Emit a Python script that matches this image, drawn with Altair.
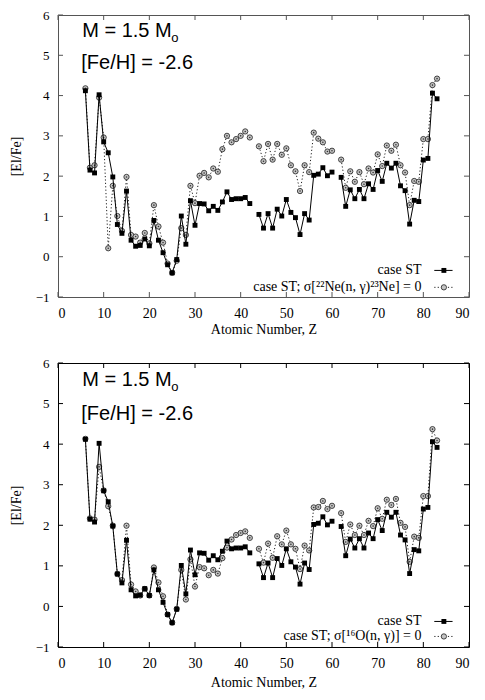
import altair as alt
import pandas as pd

# ---------------- data ----------------
Z = [6, 7, 8, 9, 10, 11, 12, 13, 14, 15, 16, 17, 18, 19, 20, 21, 22, 23, 24, 25,
     26, 27, 28, 29, 30, 31, 32, 33, 34, 35, 36, 37, 38, 39, 40, 41, 42,
     44, 45, 46, 47, 48, 49, 50, 51, 52, 53, 54, 55, 56, 57, 58, 59, 60,
     62, 63, 64, 65, 66, 67, 68, 69, 70, 71, 72, 73, 74, 75, 76, 77, 78, 79,
     80, 81, 82, 83]

case_st = [4.12, 2.15, 2.08, 4.02, 2.85, 2.58, 1.98, 0.80, 0.58, 1.63, 0.41, 0.26,
           0.28, 0.44, 0.27, 0.90, 0.41, 0.10, -0.20, -0.40,
           -0.07, 1.01, 0.31, 1.39, 0.78, 1.32, 1.31, 1.14, 1.25, 1.15, 1.36, 1.61,
           1.42, 1.44, 1.44, 1.47, 1.32,
           1.05, 0.71, 1.07, 0.71, 1.18, 1.01, 1.42, 1.10, 0.97, 0.55, 1.07, 0.91,
           2.02, 2.05, 2.21, 2.01, 2.10,
           1.97, 1.25, 1.66, 1.44, 1.67, 1.44, 1.81, 1.67, 2.14, 1.87, 2.32, 2.20,
           2.32, 1.76, 1.64, 0.81, 1.40, 1.37,
           2.40, 2.44, 4.06, 3.92]

ne22_zero = [4.18, 2.21, 2.27, 3.95, 2.96, 0.21, 1.76, 1.01, 0.64, 1.98, 0.54, 0.50,
             0.35, 0.59, 0.33, 1.28, 0.75, 0.35, -0.17, -0.40,
             -0.10, 0.71, 0.54, 1.76, 1.33, 2.01, 2.08, 1.97, 2.19, 2.11, 2.67, 3.00,
             2.84, 2.92, 3.00, 3.11, 2.96,
             2.74, 2.37, 2.80, 2.41, 2.80, 2.53, 2.69, 2.27, 2.12, 1.63, 2.27, 2.10,
             3.08, 2.93, 2.84, 2.61, 2.63,
             2.41, 1.71, 2.12, 1.86, 2.10, 1.80, 2.19, 2.09, 2.54, 2.25, 2.76, 2.63,
             2.78, 2.27, 2.09, 1.28, 1.88, 1.86,
             2.92, 2.92, 4.26, 4.42]

o16_zero = [4.13, 2.17, 2.14, 3.44, 2.86, 2.47, 1.99, 0.80, 0.65, 1.99, 0.54, 0.37,
            0.27, 0.43, 0.27, 0.96, 0.59, 0.25, -0.20, -0.40,
            -0.06, 0.90, 0.17, 1.16, 0.49, 0.97, 0.94, 0.77, 0.90, 0.81, 1.19, 1.45,
            1.65, 1.76, 1.81, 1.85, 1.69,
            1.42, 1.08, 1.55, 1.20, 1.73, 1.53, 1.87, 1.53, 1.42, 0.92, 1.50, 1.38,
            2.44, 2.45, 2.60, 2.40, 2.48,
            2.30, 1.59, 2.02, 1.76, 1.99, 1.76, 2.11, 1.98, 2.42, 2.16, 2.63, 2.50,
            2.65, 2.06, 1.96, 1.10, 1.72, 1.69,
            2.72, 2.72, 4.37, 4.09]

x_ticks = [0, 10, 20, 30, 40, 50, 60, 70, 80, 90]
y_ticks = [-1, 0, 1, 2, 3, 4, 5, 6]

label_st = "case ST"
label_ne = "case ST; σ[²²Ne(n, γ)²³Ne] = 0"
label_o = "case ST; σ[¹⁶O(n, γ)] = 0"
ann_mass = "M = 1.5 M"
ann_sub = "o"
ann_feh = "[Fe/H] = -2.6"

SERIF = "Liberation Serif"
SANS = "Liberation Sans"


def segment(z):
    # gaps in the curves at Z = 43 (Tc) and Z = 61 (Pm)
    return 0 if z < 43 else (1 if z < 61 else 2)


def make_df(vals):
    return pd.DataFrame({"Z": Z, "v": vals, "seg": [segment(z) for z in Z]})


def panel(alt_vals, alt_label, w, h, border, leg, ann_y, x_title_pad):
    xs = alt.Scale(domain=[0, 90], nice=False, zero=False)
    ys = alt.Scale(domain=[-1, 6], nice=False, zero=False)
    xax = alt.Axis(values=x_ticks, ticks=False, domain=False, grid=False,
                   labelPadding=9, titlePadding=x_title_pad, labelFontSize=14)
    yax = alt.Axis(values=y_ticks, ticks=False, domain=False, grid=False,
                   labelPadding=9, titlePadding=12, labelFontSize=13)
    X = lambda f: alt.X(f, type="quantitative", scale=xs, axis=xax, title="Atomic Number, Z")
    Y = lambda f: alt.Y(f, type="quantitative", scale=ys, axis=yax, title="[El/Fe]")

    d_st = make_df(case_st)
    d_alt = make_df(alt_vals)
    tx = pd.DataFrame({"t": x_ticks})
    ty = pd.DataFrame({"t": y_ticks})
    tk = 5 * 7 / h   # 5 px in y units
    tkx = 5 * 90 / w  # 5 px in x units

    layers = []
    # inward ticks (gnuplot style, mirrored)
    layers.append(alt.Chart(tx).mark_rule(color=border, strokeWidth=1).encode(
        x=X("t"), y=Y("y0:Q"), y2="y1:Q").transform_calculate(y0="-1", y1=str(-1 + tk)))
    layers.append(alt.Chart(tx).mark_rule(color=border, strokeWidth=1).encode(
        x=X("t"), y=Y("y0:Q"), y2="y1:Q").transform_calculate(y0="6", y1=str(6 - tk)))
    layers.append(alt.Chart(ty).mark_rule(color=border, strokeWidth=1).encode(
        y=Y("t"), x=X("x0:Q"), x2="x1:Q").transform_calculate(x0="0", x1=str(tkx)))
    layers.append(alt.Chart(ty).mark_rule(color=border, strokeWidth=1).encode(
        y=Y("t"), x=X("x0:Q"), x2="x1:Q").transform_calculate(x0="90", x1=str(90 - tkx)))

    # alternative case: dotted line + circles
    layers.append(alt.Chart(d_alt).mark_line(color="#222", strokeWidth=1, strokeDash=[1.2, 2.2]).encode(
        x=X("Z"), y=Y("v"), detail="seg:N"))
    layers.append(alt.Chart(d_alt).mark_point(shape="circle", filled=True, fill="#c4c4c4",
                                              stroke="#333", strokeWidth=0.9, size=28, opacity=1).encode(
        x=X("Z"), y=Y("v")))
    layers.append(alt.Chart(d_alt).mark_point(shape="circle", filled=True, color="#333",
                                              size=2.5, opacity=1).encode(x=X("Z"), y=Y("v")))
    # case ST: solid line + filled squares
    layers.append(alt.Chart(d_st).mark_line(color="black", strokeWidth=1).encode(
        x=X("Z"), y=Y("v"), detail="seg:N"))
    layers.append(alt.Chart(d_st).mark_point(shape="square", filled=True, color="black",
                                             size=24, opacity=1).encode(x=X("Z"), y=Y("v")))

    # annotations, positioned in data units (text centres)
    ann = pd.DataFrame({
        "px": [5.3, 24.8, 5.1],
        "py": list(ann_y),
        "txt": [ann_mass, ann_sub, ann_feh],
        "fs": [20, 13, 20],
    })
    layers.append(alt.Chart(ann).mark_text(font=SANS, align="left", baseline="middle",
                                           color="black").encode(
        x=X("px"), y=Y("py"), text="txt:N", size=alt.Size("fs:Q", scale=None, legend=None)))

    # legend (gnuplot style: text, then line sample)
    r1, r2 = leg
    leg_txt = pd.DataFrame({"px": [79.6, 79.6], "py": [r1, r2], "txt": [label_st, alt_label]})
    layers.append(alt.Chart(leg_txt).mark_text(font=SERIF, fontSize=14, align="right",
                                               baseline="middle", color="black").encode(
        x=X("px"), y=Y("py"), text="txt:N"))

    samp = pd.DataFrame({"a": [82.4], "b": [86.4], "m": [84.5], "s1": [r1], "s2": [r2]})
    layers.append(alt.Chart(samp).mark_rule(color="black", strokeWidth=1).encode(
        x=X("a"), x2="b", y=Y("s1")))
    layers.append(alt.Chart(samp).mark_point(shape="square", filled=True, color="black", size=24,
                                             opacity=1).encode(x=X("m"), y=Y("s1")))
    layers.append(alt.Chart(samp).mark_rule(color="#222", strokeWidth=1, strokeDash=[1.2, 2.2]).encode(
        x=X("a"), x2="b", y=Y("s2")))
    layers.append(alt.Chart(samp).mark_point(shape="circle", filled=True, fill="#c4c4c4", stroke="#333",
                                             strokeWidth=0.9, size=28, opacity=1).encode(
        x=X("m"), y=Y("s2")))

    return alt.layer(*layers).properties(width=w, height=h,
                                         view=alt.ViewConfig(stroke=border, strokeWidth=1))


top = panel(ne22_zero, label_ne, 411, 282, "#555555", (-0.34, -0.76), (5.61, 5.43, 4.80), 2)
bottom = panel(o16_zero, label_o, 411, 284, "black", (-0.37, -0.74), (5.58, 5.42, 4.74), 5)

chart = alt.vconcat(top, bottom, spacing=66, bounds="flush").properties(
    padding={"left": 0, "top": 0, "right": 0, "bottom": 0}
).configure_axis(
    labelFont=SERIF, labelColor="black",
    titleFont=SERIF, titleFontSize=14, titleFontWeight="normal", titleColor="black",
).configure_view(stroke="black")

chart.save("out.html", embed_options={"renderer": "svg", "actions": False})
